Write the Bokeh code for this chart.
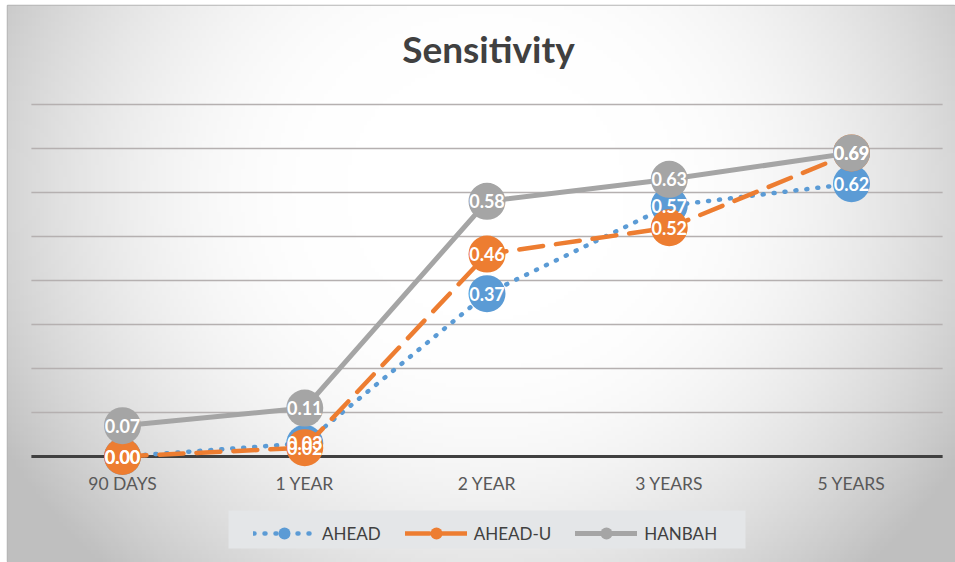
import numpy as np
from bokeh.plotting import figure
from bokeh.models import (ColumnDataSource, Range1d, LinearAxis, FixedTicker,
                          Legend, LegendItem, Label, BoxAnnotation)
from bokeh.core.properties import value
from bokeh.embed import file_html
from bokeh.resources import INLINE

# ---------------- data ----------------
categories = ["90 DAYS", "1 YEAR", "2 YEAR", "3 YEARS", "5 YEARS"]
ahead = [0.00, 0.03, 0.37, 0.57, 0.62]
ahead_u = [0.00, 0.02, 0.46, 0.52, 0.69]
hanbah = [0.07, 0.11, 0.58, 0.63, 0.69]
grid_values = [0.1, 0.2, 0.3, 0.4, 0.5, 0.6, 0.7, 0.8]
series_names = ["AHEAD", "AHEAD-U", "HANBAH"]
title_text = "Sensitivity"

# ---------------- layout / styles ----------------
W, H = 955, 562
FL, FT = 7, 5            # frame offset (left, top) in px
FONT = "Lato"
CX0, PXU = 122.0, 182.25  # px of first category, px per category
ZY, PYU = 456.0, 440.0    # px of value 0, px per unit value
xpos = list(range(len(categories)))
X0, X1 = (FL - CX0) / PXU, (W - CX0) / PXU
Y0, Y1 = (ZY - H) / PYU, (ZY - FT) / PYU

p = figure(width=W, height=H, output_backend="svg", toolbar_location=None,
           x_range=Range1d(X0, X1), y_range=Range1d(Y0, Y1),
           x_axis_type=None, y_axis_type=None,
           min_border_left=FL, min_border_top=FT, min_border_right=0,
           min_border_bottom=0)
p.xgrid.visible = False
p.ygrid.visible = False
p.outline_line_color = "#b5b5b5"
p.outline_line_width = 1.5
p.background_fill_color = "#ffffff"
p.border_fill_color = "#ffffff"

# radial grey-white background gradient (decoration)
nx, ny = 240, 140
pxs = np.linspace(FL, W, nx)
pys = np.linspace(H, FT, ny)  # row 0 = bottom
PX, PY = np.meshgrid(pxs, pys)
t = np.sqrt(((PX - 485) / 560.0) ** 2 + ((PY - 190) / 520.0) ** 2)
s = np.clip((t - 0.25) / 0.75, 0, 1) ** 2
v = (255 - 64 * s).astype(np.uint32)
img = (255 << 24) | (v << 16) | (v << 8) | v
p.image_rgba(image=[img.astype(np.uint32)], x=X0, y=Y0, dw=X1 - X0, dh=Y1 - Y0)

# gridlines and zero line
n_g = len(grid_values)
p.segment(x0=[xpos[0] - 0.5] * n_g, x1=[xpos[-1] + 0.5] * n_g,
          y0=grid_values, y1=grid_values, line_color="#b5b0b0", line_width=1.3)
p.segment(x0=[xpos[0] - 0.5], x1=[xpos[-1] + 0.5], y0=[0], y1=[0],
          line_color="#404040", line_width=3)

colors = ["#5B9BD5", "#ED7D31", "#A5A5A5"]
dashes = ["1 10", "24 13", "solid"]
widths = [4.5, 4.5, 5]
data = [ahead, ahead_u, hanbah]

items = []
label_sources = []
for name, vals, col, dsh, lw in zip(series_names, data, colors, dashes, widths):
    src = ColumnDataSource(dict(x=xpos, y=vals, lab=[f"{v_:.2f}" for v_ in vals]))
    lr = p.line("x", "y", source=src, line_color=col, line_width=lw,
                line_dash=dsh, line_cap="round", line_join="round")
    sr = p.scatter("x", "y", source=src, size=37, fill_color=col,
                   line_color=None, marker="circle")
    items.append(LegendItem(label=name, renderers=[lr, sr]))
    label_sources.append(src)

for src in label_sources:
    p.text("x", "y", text="lab", source=src, text_color="white",
           text_font=value(FONT), text_font_style="bold", text_font_size="18px",
           text_align="center", text_baseline="middle")

# x axis (category labels) drawn at y = 0
xaxis = LinearAxis(fixed_location=0,
                   ticker=FixedTicker(ticks=xpos),
                   major_label_overrides={i: c for i, c in zip(xpos, categories)})
xaxis.axis_line_color = None
xaxis.major_tick_line_color = None
xaxis.minor_tick_line_color = None
xaxis.major_label_standoff = 10
xaxis.major_label_text_font = FONT
xaxis.major_label_text_font_size = "17.5px"
xaxis.major_label_text_color = "#595959"
p.add_layout(xaxis, "below")

# title
p.add_layout(Label(x=488 - FL, y=H - 48, x_units="screen", y_units="screen",
                   text=title_text, text_font=FONT, text_font_style="bold",
                   text_font_size="37px", text_color="#404040",
                   text_align="center", text_baseline="middle"))

# legend background box + legend
p.add_layout(BoxAnnotation(left=(228 - CX0) / PXU, right=(745 - CX0) / PXU,
                           bottom=(ZY - 548) / PYU, top=(ZY - 510) / PYU,
                           fill_color="#e4e6e8", fill_alpha=1, line_color=None))
legend = Legend(items=items, orientation="horizontal", location=(257 - FL - 4, H - 548),
                glyph_width=62, glyph_height=30, label_standoff=7, spacing=24,
                padding=4, margin=0, border_line_color=None,
                background_fill_alpha=0, label_text_font=FONT,
                label_text_font_size="17px", label_text_color="#404040")
p.add_layout(legend)

open("out.html", "w").write(file_html(p, INLINE))
